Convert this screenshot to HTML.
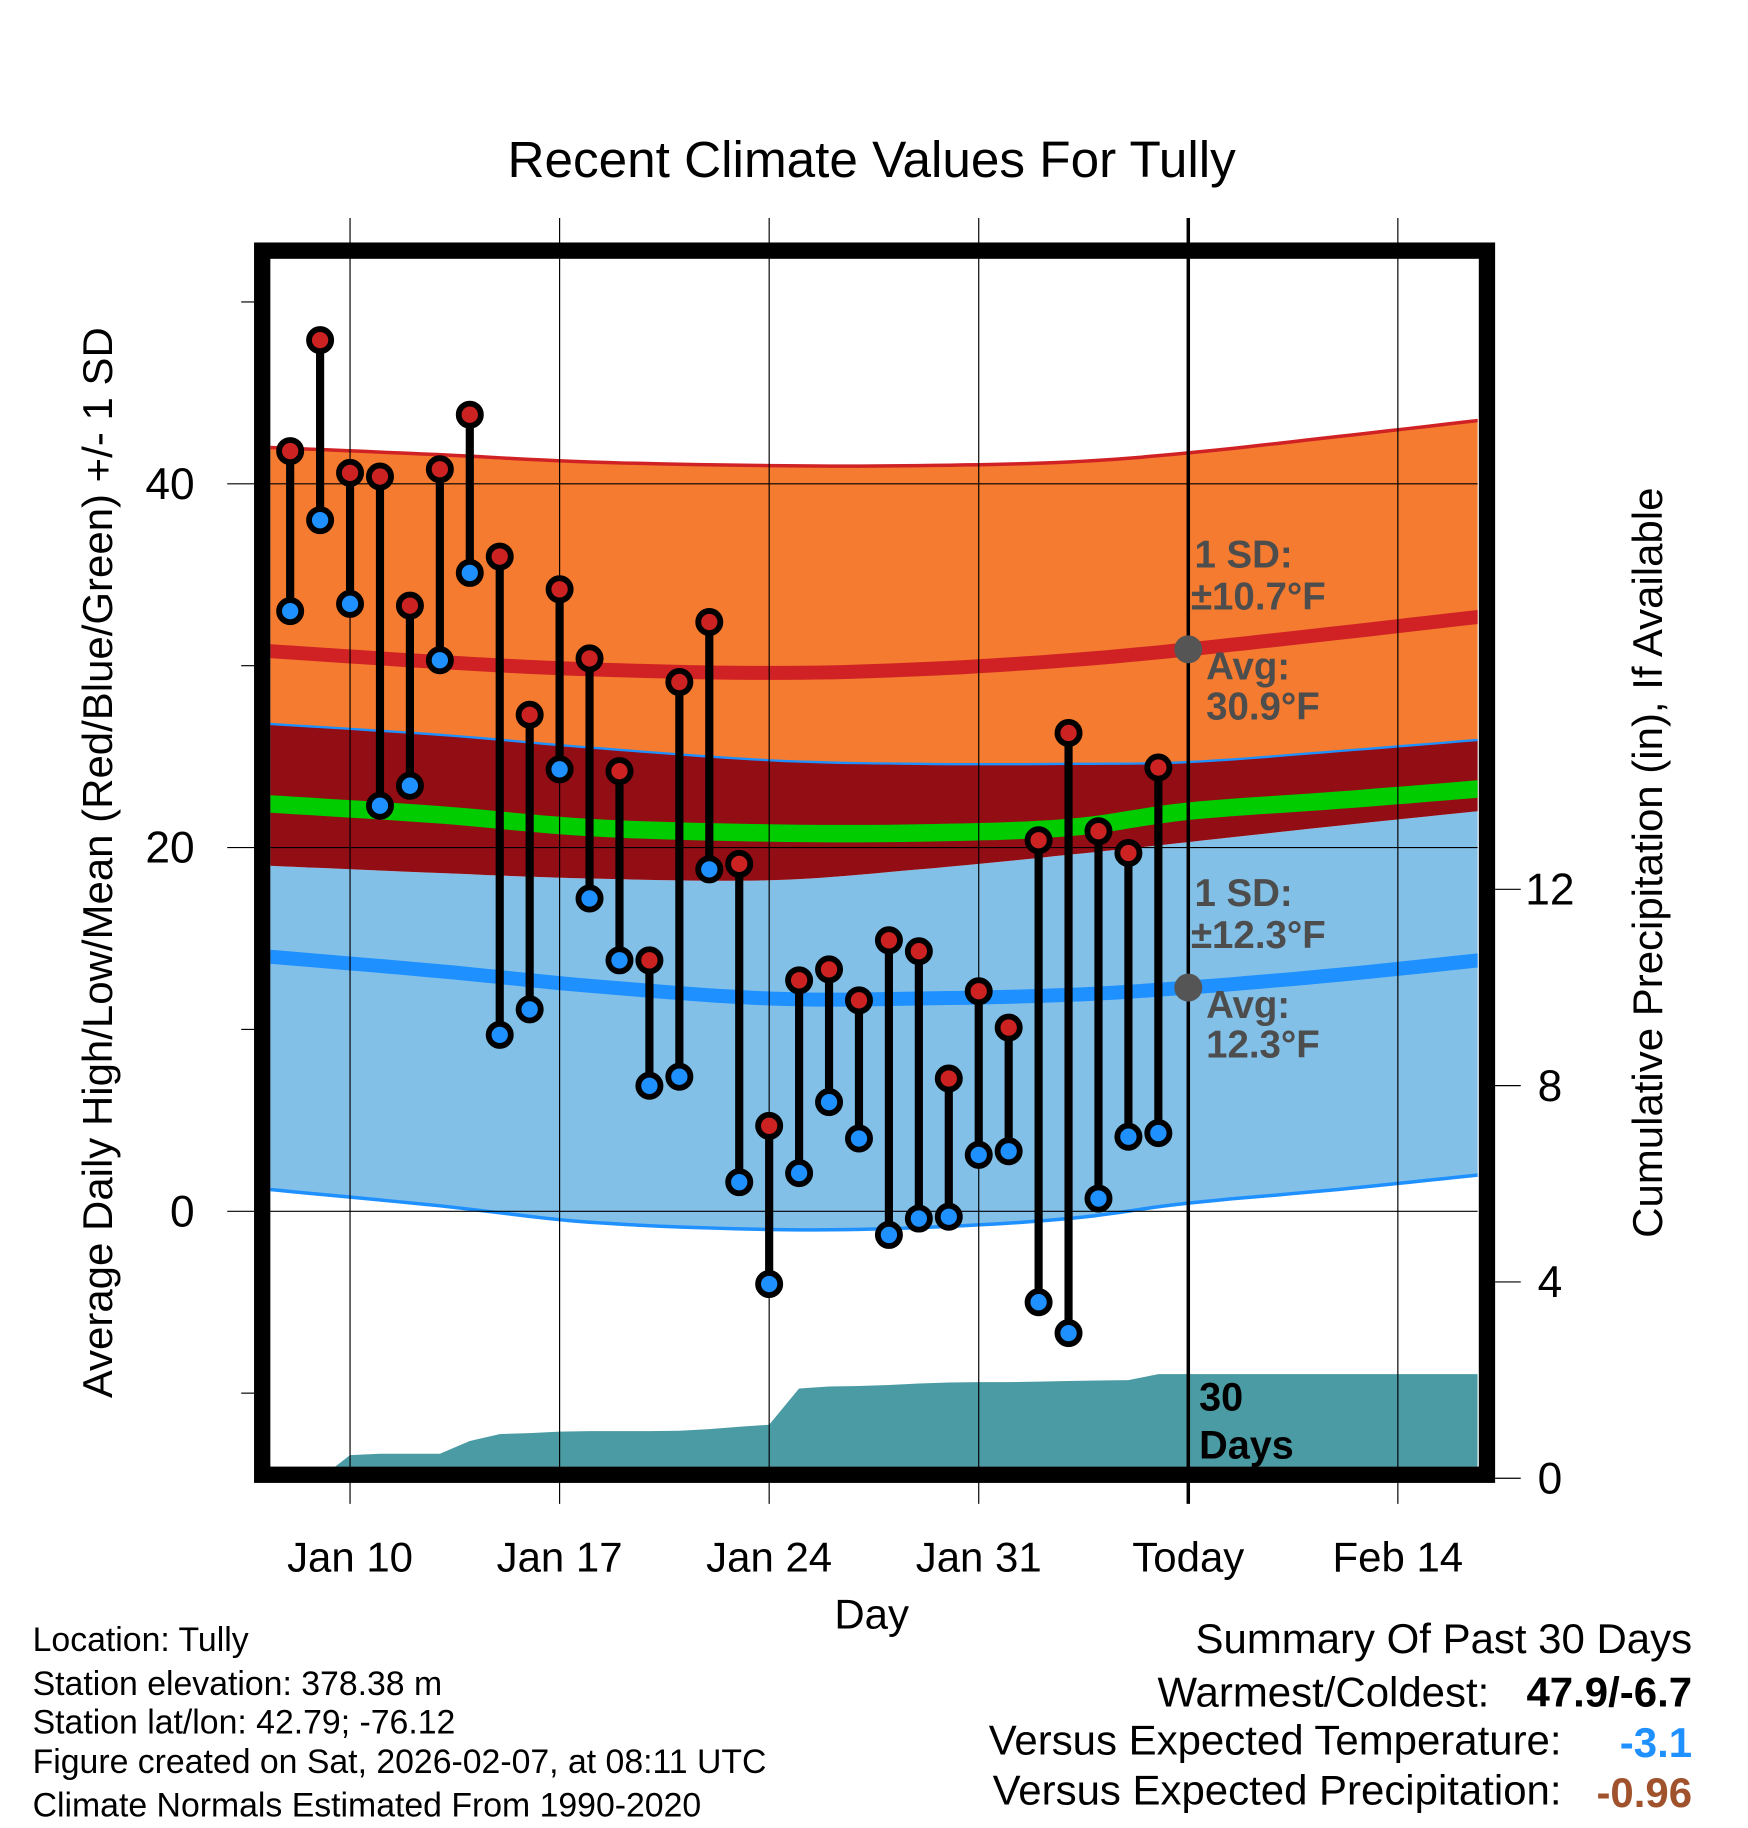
<!DOCTYPE html>
<html><head><meta charset="utf-8"><style>
html,body{margin:0;padding:0;background:#fff}
svg{display:block}
text{font-family:"Liberation Sans",sans-serif}
</style></head><body>
<svg id="chart" width="1748" height="1828" viewBox="0 0 1500 1568" preserveAspectRatio="none" xmlns="http://www.w3.org/2000/svg">
<rect width="1500" height="1568" fill="#fff"/>
<g id="bands"></g>
<g id="precip"></g>
<g id="grid"></g>
<g id="marks"></g>
<g id="frame"></g>
<g id="labels"></g>
</svg>
<script>
// ---- data ----
const days = ["Jan 8","Jan 9","Jan 10","Jan 11","Jan 12","Jan 13","Jan 14","Jan 15","Jan 16","Jan 17","Jan 18","Jan 19","Jan 20","Jan 21","Jan 22","Jan 23","Jan 24","Jan 25","Jan 26","Jan 27","Jan 28","Jan 29","Jan 30","Jan 31","Feb 1","Feb 2","Feb 3","Feb 4","Feb 5","Feb 6"];
const highs = [41.8,47.9,40.6,40.4,33.3,40.8,43.8,36.0,27.3,34.2,30.4,24.2,13.8,29.1,32.4,19.1,4.7,12.7,13.3,11.6,14.9,14.3,7.3,12.1,10.1,20.4,26.3,20.9,19.7,24.4];
const lows = [33.0,38.0,33.4,22.3,23.4,30.3,35.1,9.7,11.1,24.3,17.2,13.8,6.9,7.4,18.8,1.6,-4.0,2.1,6.0,4.0,-1.3,-0.4,-0.3,3.1,3.3,-5.0,-6.7,0.7,4.1,4.3];
const precip = [0,0,0.47,0.5,0.5,0.5,0.76,0.9,0.92,0.95,0.96,0.96,0.96,0.97,1.0,1.05,1.09,1.83,1.87,1.88,1.9,1.93,1.95,1.96,1.96,1.97,1.98,1.99,2.0,2.12];
const normDays = [-0.7,5,10,16,21,26,30,35,40.3];
const normHighAvg = [30.8,30.2,29.8,29.6,29.8,30.3,30.9,31.8,32.8];
const normHighUp = [42.0,41.6,41.2,41.0,41.0,41.2,41.7,42.6,43.6];
const normHighLo = [26.8,26.2,25.5,24.8,24.6,24.6,24.7,25.3,26.0];
const normMean = [22.4,21.8,21.1,20.8,20.8,21.1,22.0,22.6,23.3];
const normLowAvg = [14.0,13.2,12.4,11.7,11.7,11.9,12.3,13.0,13.9];
const normLowUp = [19.0,18.6,18.3,18.2,18.8,19.6,20.3,21.2,22.1];
const normLowLo = [1.2,0.3,-0.6,-1.0,-0.9,-0.4,0.45,1.2,2.1];
const xTicks = ["Jan 10","Jan 17","Jan 24","Jan 31","Today","Feb 14"];
const xTickDays = [2,9,16,23,30,37];
const yTicks = [0,20,40];
const yMinor = [-10,10,30,50];
const rTicks = [0,4,8,12];

// ---- scales ----
const L=232,R=1268,T=222,B=1258;
const x = d => 249 + d*25.69;
const y = v => 1039 - v*15.6;
const yp = v => 1268 - v*42.1;
const NS='http://www.w3.org/2000/svg';
function mk(parent,tag,attrs){const e=document.createElementNS(NS,tag);for(const k in attrs)e.setAttribute(k,attrs[k]);document.getElementById(parent).appendChild(e);return e;}
// smooth curve samples (Catmull-Rom)
function smooth(arr){
  const P=normDays.map((d,i)=>[x(d),y(arr[i])]);const out=[];
  for(let i=0;i<P.length-1;i++){
    const p0=P[Math.max(0,i-1)],p1=P[i],p2=P[i+1],p3=P[Math.min(P.length-1,i+2)];
    for(let s=0;s<10;s++){const t=s/10,t2=t*t,t3=t2*t;
      const f=k=>0.5*((2*p1[k])+(-p0[k]+p2[k])*t+(2*p0[k]-5*p1[k]+4*p2[k]-p3[k])*t2+(-p0[k]+3*p1[k]-3*p2[k]+p3[k])*t3);
      out.push(f(0).toFixed(1)+','+f(1).toFixed(1));}
  }
  const l=P[P.length-1];out.push(l[0].toFixed(1)+','+l[1].toFixed(1));return out;
}
function band(up,lo){return smooth(up).concat(smooth(lo).reverse()).join(' ');}
function line(arr){return 'M'+smooth(arr).join(' L');}

const defs=mk('chart','defs',{});
const cp=document.createElementNS(NS,'clipPath');cp.setAttribute('id','plotclip');
const cr=document.createElementNS(NS,'rect');cr.setAttribute('x',L);cr.setAttribute('y',T);cr.setAttribute('width',R-L);cr.setAttribute('height',B-T);
cp.appendChild(cr);defs.appendChild(cp);
document.getElementById('bands').setAttribute('clip-path','url(#plotclip)');
document.getElementById('precip').setAttribute('clip-path','url(#plotclip)');

let e;
e=mk('bands','polygon',{points:band(normHighUp,normHighLo),fill:'#f47b2f'});

e=mk('bands','polygon',{points:band(normLowUp,normLowLo),fill:'#82c0e8'});

e=mk('bands','polygon',{points:band(normHighLo,normLowUp),fill:'#920d14'});

e=mk('bands','path',{d:line(normHighUp),fill:'none',stroke:'#d02224','stroke-width':3});

e=mk('bands','path',{d:line(normHighLo),fill:'none',stroke:'#1e90ff','stroke-width':2});

e=mk('bands','path',{d:line(normLowLo),fill:'none',stroke:'#1e90ff','stroke-width':3});

e=mk('bands','path',{d:line(normHighAvg),fill:'none',stroke:'#d02224','stroke-width':12});

e=mk('bands','path',{d:line(normLowAvg),fill:'none',stroke:'#1e90ff','stroke-width':12});

e=mk('bands','path',{d:line(normMean),fill:'none',stroke:'#00cc00','stroke-width':15});


let pp='M'+x(0)+','+yp(0);
precip.forEach((v,i)=>{pp+=' L'+x(i).toFixed(1)+','+yp(v).toFixed(1);});
pp+=' L'+R+','+yp(precip[precip.length-1]).toFixed(1)+' L'+R+','+yp(0)+' L'+L+','+yp(0)+' Z';
e=mk('precip','path',{d:pp,fill:'#4a9ba3'});


xTickDays.forEach((d,i)=>{
  e=mk('grid','line',{x1:x(d),x2:x(d),y1:187,y2:1290,stroke:'#000','stroke-width':i==4?3:1});
  
  e=mk('labels','text',{x:x(d),y:1348,'font-size':36,'text-anchor':'middle'});e.textContent=xTicks[i];
  
});
yTicks.forEach(v=>{
  e=mk('grid','line',{x1:195,x2:R,y1:y(v),y2:y(v),stroke:'#000','stroke-width':1});
  
  e=mk('labels','text',{x:167,y:y(v)+13,'font-size':38,'text-anchor':'end'});e.textContent=v;
  
});
yMinor.forEach(v=>{
  e=mk('grid','line',{x1:207,x2:218,y1:y(v),y2:y(v),stroke:'#000','stroke-width':1});
  
});
rTicks.forEach(v=>{
  e=mk('grid','line',{x1:1283,x2:1305,y1:yp(v),y2:yp(v),stroke:'#000','stroke-width':1});
  
  e=mk('labels','text',{x:1330,y:yp(v)+13,'font-size':38,'text-anchor':'middle'});e.textContent=v;
  
});

highs.forEach((h,i)=>{
  e=mk('marks','line',{x1:x(i),x2:x(i),y1:y(h),y2:y(lows[i]),stroke:'#000','stroke-width':7});
  
});
highs.forEach((h,i)=>{
  e=mk('marks','circle',{cx:x(i),cy:y(h),r:9.5,fill:'#cc2222',stroke:'#000','stroke-width':5});
  
  e=mk('marks','circle',{cx:x(i),cy:y(lows[i]),r:9.5,fill:'#1e90ff',stroke:'#000','stroke-width':5});
  
});
e=mk('marks','circle',{cx:x(30),cy:y(normHighAvg[6]),r:12,fill:'#555'});

e=mk('marks','circle',{cx:x(30),cy:y(normLowAvg[6]),r:12,fill:'#555'});


e=mk('frame','rect',{x:225,y:215,width:1051,height:1050,fill:'none',stroke:'#000','stroke-width':14});

</script>
<svg style="position:absolute;left:0;top:0" width="1748" height="1828" viewBox="0 0 1500 1568" preserveAspectRatio="none">
<g font-family="Liberation Sans, sans-serif">
<text x="748" y="152" font-size="44" text-anchor="middle">Recent Climate Values For Tully</text>
<text x="748" y="1397" font-size="36" text-anchor="middle">Day</text>
<text transform="translate(96,740) rotate(-90)" font-size="36" text-anchor="middle">Average Daily High/Low/Mean (Red/Blue/Green) +/- 1 SD</text>
<text transform="translate(1426,740) rotate(-90)" font-size="36" text-anchor="middle">Cumulative Precipitation (in), If Available</text>
<g font-weight="bold" font-size="33" fill="#4d4d4d">
<text x="1025" y="487">1 SD:</text>
<text x="1022" y="523">±10.7°F</text>
<text x="1035" y="583">Avg:</text>
<text x="1035" y="617">30.9°F</text>
<text x="1025" y="777">1 SD:</text>
<text x="1022" y="813">±12.3°F</text>
<text x="1035" y="873">Avg:</text>
<text x="1035" y="907">12.3°F</text>
</g>
<text x="1029" y="1210" font-size="34" font-weight="bold">30</text>
<text x="1029" y="1251" font-size="34" font-weight="bold">Days</text>
<g font-size="29">
<text x="28" y="1416">Location: Tully</text>
<text x="28" y="1454">Station elevation: 378.38 m</text>
<text x="28" y="1487">Station lat/lon: 42.79; -76.12</text>
<text x="28" y="1521">Figure created on Sat, 2026-02-07, at 08:11 UTC</text>
<text x="28" y="1558">Climate Normals Estimated From 1990-2020</text>
</g>
<g font-size="36">
<text x="1452" y="1418" text-anchor="end">Summary Of Past 30 Days</text>
<text x="1278" y="1464" text-anchor="end">Warmest/Coldest:</text>
<text x="1452" y="1464" text-anchor="end" font-weight="bold">47.9/-6.7</text>
<text x="1340" y="1505" text-anchor="end">Versus Expected Temperature:</text>
<text x="1452" y="1507" text-anchor="end" font-weight="bold" fill="#1e90ff">-3.1</text>
<text x="1340" y="1548" text-anchor="end">Versus Expected Precipitation:</text>
<text x="1452" y="1550" text-anchor="end" font-weight="bold" fill="#a0522d">-0.96</text>
</g>
</g>
</svg>
</body></html>
